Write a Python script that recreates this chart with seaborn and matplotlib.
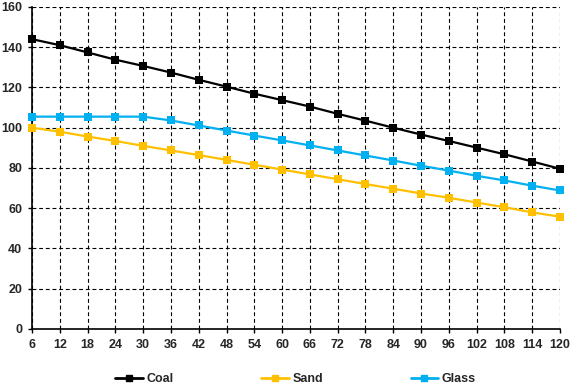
import numpy as np
import pandas as pd
import seaborn as sns
import matplotlib.pyplot as plt

months = [6, 12, 18, 24, 30, 36, 42, 48, 54, 60, 66, 72, 78, 84, 90, 96, 102, 108, 114, 120]
coal = [144, 141, 137.4, 133.8, 130.7, 127.4, 123.8, 120.4, 116.9, 113.7, 110.5, 106.9, 103.5, 100,
        96.6, 93.4, 90.1, 86.8, 83.2, 79.6]
sand = [100, 98, 95.6, 93.4, 91, 88.7, 86.4, 84, 81.6, 79.2, 76.8, 74.4, 72, 69.7,
        67.3, 65.2, 62.8, 60.5, 57.9, 55.8]
glass = [105.5, 105.5, 105.5, 105.5, 105.5, 103.6, 101.1, 98.6, 96.1, 93.7, 91.2, 88.7, 86.2, 83.7,
         81.1, 78.7, 76.1, 73.8, 71.2, 68.8]

series_names = ["Coal", "Sand", "Glass"]
colors = {"Coal": "#000000", "Sand": "#FFC000", "Glass": "#00B0F0"}

df = pd.DataFrame({"month": months, "Coal": coal, "Sand": sand, "Glass": glass})
long_df = df.melt(id_vars="month", var_name="series", value_name="value")

sns.set_style("white")
plt.rcParams['font.family'] = ['Liberation Sans', 'DejaVu Sans']
plt.rcParams['font.weight'] = 'bold'

fig, ax = plt.subplots(figsize=(5.72, 3.87), dpi=100)
fig.subplots_adjust(left=0.056, right=0.979, top=0.982, bottom=0.15)

sns.lineplot(data=long_df, x="month", y="value", hue="series", hue_order=series_names,
             palette=colors, marker="s", markersize=5.5, markeredgewidth=0,
             linewidth=1.6, sort=False, ax=ax, legend=False)
# keep end markers whole, like the original
for line in ax.lines:
    line.set_clip_on(False)
    line.set_zorder(3)

ax.set_xlim(6, 120)
ax.set_ylim(0, 160)
ax.set_xticks(months)
ax.set_xticklabels([str(m) for m in months])
ax.set_yticks(np.arange(0, 161, 20))
ax.set_xlabel("")
ax.set_ylabel("")

ax.grid(True, color="black", linestyle=(0, (3.5, 2.5)), linewidth=0.8)
ax.set_axisbelow(True)
for s in ["top", "right"]:
    ax.spines[s].set_visible(False)
for s in ["left", "bottom"]:
    ax.spines[s].set_color("black")
    ax.spines[s].set_linewidth(1.2)

ax.tick_params(axis="both", which="major", labelsize=9, length=3, width=1, color="black",
               direction="out", bottom=True, left=True, pad=4)
for lbl in ax.get_xticklabels() + ax.get_yticklabels():
    lbl.set_fontweight("bold")

handles = [plt.Line2D([], [], color=colors[n], marker="s", markersize=5, linewidth=2) for n in series_names]
fig.legend(handles, series_names, loc="center", ncol=3, frameon=False,
           bbox_to_anchor=(0.517, 0.02), handlelength=2.2, columnspacing=7,
           prop={"size": 9, "weight": "bold"}, handletextpad=0.3)

fig.savefig("out.png", dpi=100)
